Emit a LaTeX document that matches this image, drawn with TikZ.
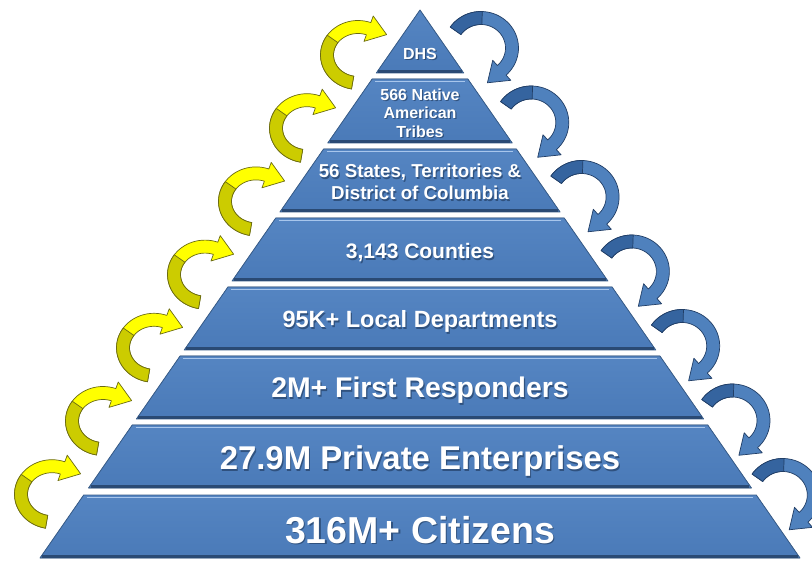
\documentclass[tikz,border=0pt]{standalone}
\usepackage{fontspec}
\setmainfont{Liberation Sans}
\usetikzlibrary{calc}
\definecolor{cBandTop}{HTML}{5585C2}
\definecolor{cBandBot}{HTML}{4A7AB8}
\definecolor{cBandEdge}{HTML}{385D8A}
\definecolor{cBandDark}{HTML}{2A4A74}
\definecolor{cBandLight}{HTML}{A8C6EC}
\definecolor{cTxtShadow}{HTML}{1C3557}
\definecolor{cYel}{HTML}{FFFF00}
\definecolor{cYelD}{HTML}{CCCC00}
\definecolor{cYelEdge}{HTML}{6B6B12}
\definecolor{cBlu}{HTML}{4F81BD}
\definecolor{cBluD}{HTML}{35649F}
\definecolor{cBluEdge}{HTML}{213E66}
\tikzset{
 bandshape/.style={top color=cBandTop, bottom color=cBandBot, draw=cBandEdge, line width=0.8pt, line join=round},
 bandtop/.style={draw=cBandLight, line width=1.6pt},
 bandbottom/.style={draw=cBandDark, line width=2.6pt},
 lbl/.style={text=white, inner sep=0pt, align=center},
 lblshadow/.style={text=cTxtShadow, opacity=0.6, inner sep=0pt, align=center},
 yelmain/.style={fill=cYel, draw=cYelEdge, line width=0.7pt, line join=round},
 yeldark/.style={fill=cYelD, draw=cYelEdge, line width=0.7pt, line join=round},
 blumain/.style={fill=cBlu, draw=cBluEdge, line width=0.7pt, line join=round},
 bludark/.style={fill=cBluD, draw=cBluEdge, line width=0.7pt, line join=round},
}
% one band of the pyramid: #1 top y, #2 bottom y (image coordinates)
\newcommand\pyrband[2]{%
 \pgfmathsetmacro\pbTL{420-0.6934*(#1-10)}%
 \pgfmathsetmacro\pbTR{420+0.6934*(#1-10)}%
 \pgfmathsetmacro\pbBL{420-0.6934*(#2-10)}%
 \pgfmathsetmacro\pbBR{420+0.6934*(#2-10)}%
 \filldraw[bandshape] (\pbTL,#1) -- (\pbTR,#1) -- (\pbBR,#2) -- (\pbBL,#2) -- cycle;
 \draw[bandbottom] (\pbBL+2,#2-1.3) -- (\pbBR-2,#2-1.3);
 \ifdim #1pt>20pt
  \pgfmathsetmacro\pbHL{420-0.6934*(#1+2.5-10)+5}%
  \pgfmathsetmacro\pbHR{420+0.6934*(#1+2.5-10)-5}%
  \draw[bandtop] (\pbHL,#1+2.5) -- (\pbHR,#1+2.5);
 \fi
}
% label with shadow: #1 name, #2 y, #3 anchor, #4 size, #5 leading, #6 text
\newcommand\pyrlabel[6]{%
 \node[lblshadow, anchor=#3, font={\fontsize{#4}{#5}\selectfont\bfseries}] (#1s) at (421.2,#2+1.2) {#6};
 \node[lbl, anchor=#3, font={\fontsize{#4}{#5}\selectfont\bfseries}] (#1) at (420,#2) {#6};
}
% curved block arrow: #1 cx, #2 cy, #3 rx, #4 ry, #5 start, #6 twist, #7 end, #8 style prefix
\newcommand\bendarrow[8]{%
 \pgfmathsetmacro\baEx{#1+#3*cos(#7)}%
 \pgfmathsetmacro\baEy{#2+#4*sin(#7)}%
 \pgfmathsetmacro\baTx{-#3*sin(#7)}%
 \pgfmathsetmacro\baTy{#4*cos(#7)}%
 \pgfmathsetmacro\baN{veclen(\baTx,\baTy)}%
 \pgfmathsetmacro\baPx{\baEx+19*\baTx/\baN}%
 \pgfmathsetmacro\baPy{\baEy+19*\baTy/\baN}%
 \filldraw[#8main] plot[domain=#5:#7,samples=40,variable=\q] ({#1+(#3+6.5)*cos(\q)},{#2+(#4+6.5)*sin(\q)})
  -- ({#1+(#3+13.5)*cos(#7)},{#2+(#4+13.5)*sin(#7)})
  -- (\baPx,\baPy)
  -- ({#1+(#3-13.5)*cos(#7)},{#2+(#4-13.5)*sin(#7)})
  -- plot[domain=#7:#5,samples=40,variable=\q] ({#1+(#3-6.5)*cos(\q)},{#2+(#4-6.5)*sin(\q)})
  -- cycle;
 \filldraw[#8dark] plot[domain=#5:#6,samples=20,variable=\q] ({#1+(#3+6.5)*cos(\q)},{#2+(#4+6.5)*sin(\q)})
  -- plot[domain=#6:#5,samples=20,variable=\q] ({#1+(#3-6.5)*cos(\q)},{#2+(#4-6.5)*sin(\q)})
  -- cycle;
}
\begin{document}
\begin{tikzpicture}[x=1pt,y=-1pt]
\useasboundingbox (0,0) rectangle (812,561);
\clip (0,0) rectangle (812,561);
\fill[white] (0,0) rectangle (812,561);
\foreach \a/\b in {10/73, 79/143, 149/212, 218/281, 287/350, 356/419, 425/488, 495/558} {\pyrband{\a}{\b}}
\pyrlabel{dhs}{59.5}{base}{16}{18}{DHS}
\pyrlabel{tribes}{112.8}{center}{16}{18.5}{566 Native\\American\\Tribes}
\pyrlabel{states}{182.3}{center}{18.7}{22}{56 States, Territories \&\\District of Columbia}
\pyrlabel{counties}{259}{base}{21}{24}{3,143 Counties}
\pyrlabel{local}{328}{base}{23.5}{26}{95K+ Local Departments}
\pyrlabel{first}{398}{base}{28.4}{32}{2M+ First Responders}
\pyrlabel{private}{470}{base}{32.9}{36}{27.9M Private Enterprises}
\pyrlabel{citizens}{543}{base}{37.5}{40}{316M+ Citizens}
\foreach \i in {0,...,6}{
 \pgfmathsetmacro\ycx{358-51*\i}
 \pgfmathsetmacro\ycy{55+73.2*\i}
 \bendarrow{\ycx}{\ycy}{31}{28}{100}{215}{290}{yel}
 \pgfmathsetmacro\bcx{481+50.3*\i}
 \pgfmathsetmacro\bcy{48+74.5*\i}
 \bendarrow{\bcx}{\bcy}{31}{30}{215}{272}{408}{blu}
}
\end{tikzpicture}
\end{document}
